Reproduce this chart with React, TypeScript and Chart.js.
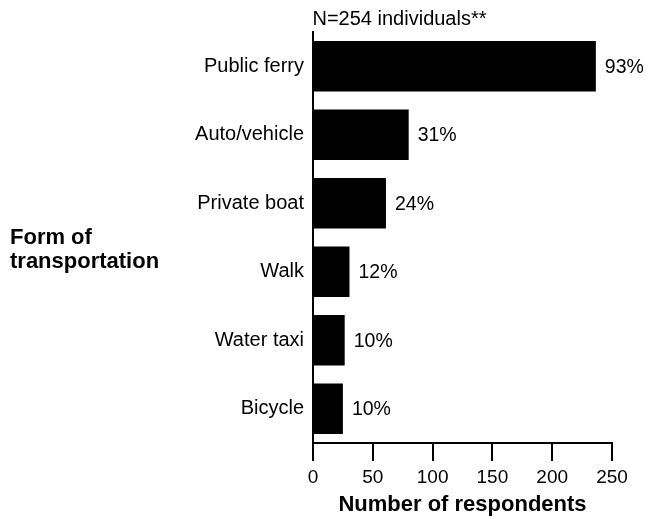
import React, { useEffect, useRef } from "react";
import { Chart, registerables } from "chart.js";

Chart.register(...registerables);

const categories = ["Public ferry", "Auto/vehicle", "Private boat", "Walk", "Water taxi", "Bicycle"];
const respondents = [236.5, 80, 61, 30.5, 26.5, 25];
const percentLabels = ["93%", "31%", "24%", "12%", "10%", "10%"];
const xTicks = [0, 50, 100, 150, 200, 250];
const noteText = "N=254 individuals**";
const yTitleLines = ["Form of", "transportation"];
const xTitle = "Number of respondents";

const FONT = "'Liberation Sans', Arial, Helvetica, sans-serif";

const annotations = {
  id: "annotations",
  afterDatasetsDraw(chart: any) {
    const ctx = chart.ctx;
    const meta = chart.getDatasetMeta(0);
    ctx.save();
    ctx.fillStyle = "#000";
    ctx.font = `19.5px ${FONT}`;
    ctx.textAlign = "left";
    ctx.textBaseline = "middle";
    meta.data.forEach((bar: any, i: number) => {
      ctx.fillText(percentLabels[i], bar.x + 9, bar.y + 1);
    });
    // note above chart
    ctx.font = `20px ${FONT}`;
    ctx.textBaseline = "alphabetic";
    ctx.fillText(noteText, chart.chartArea.left - 0.5, 25);
    // y title (horizontal, two lines)
    ctx.font = `bold 22px ${FONT}`;
    yTitleLines.forEach((line, i) => {
      ctx.fillText(line, 10, 244 + i * 24.3);
    });
    ctx.restore();
  },
};

export default function App() {
  const ref = useRef<HTMLCanvasElement | null>(null);
  useEffect(() => {
    if (!ref.current) return;
    const chart = new Chart(ref.current, {
      type: "bar",
      data: {
        labels: categories,
        datasets: [
          {
            data: respondents,
            backgroundColor: "#000",
            borderWidth: 0,
            barPercentage: 0.74,
            categoryPercentage: 1,
          },
        ],
      },
      options: {
        indexAxis: "y",
        responsive: false,
        animation: false,
        devicePixelRatio: 1,
        layout: { padding: { left: 0, top: 32, right: 36, bottom: 0 } },
        plugins: {
          legend: { display: false },
          tooltip: { enabled: false },
          title: { display: false },
        },
        scales: {
          x: {
            type: "linear",
            min: 0,
            max: 250,
            afterBuildTicks(scale: any) {
              scale.ticks = xTicks.map((v) => ({ value: v }));
            },
            afterFit(scale: any) {
              scale.height = 76;
            },
            grid: {
              display: true,
              drawOnChartArea: false,
              drawTicks: true,
              tickLength: 18,
              lineWidth: 2,
              color: "#000",
            },
            border: { display: true, color: "#000", width: 2 },
            ticks: {
              color: "#000",
              font: { family: FONT, size: 19 },
              padding: 5,
              maxRotation: 0,
            },
            title: {
              display: true,
              text: xTitle,
              color: "#000",
              font: { family: FONT, size: 22, weight: "bold" },
              padding: { top: 0, bottom: 1 },
            },
          },
          y: {
            type: "category",
            afterFit(scale: any) {
              scale.width = 313;
            },
            grid: {
              display: true,
              drawOnChartArea: false,
              drawTicks: false,
              lineWidth: 0,
            },
            border: { display: true, color: "#000", width: 2 },
            ticks: {
              color: "#000",
              font: { family: FONT, size: 20 },
              padding: 9,
            },
          },
        },
      },
      plugins: [annotations],
    });
    return () => chart.destroy();
  }, []);
  return (
    <canvas
      ref={ref}
      width={648}
      height={519}
      style={{ position: "absolute", left: 0, top: 0, width: 648, height: 519 }}
    />
  );
}
